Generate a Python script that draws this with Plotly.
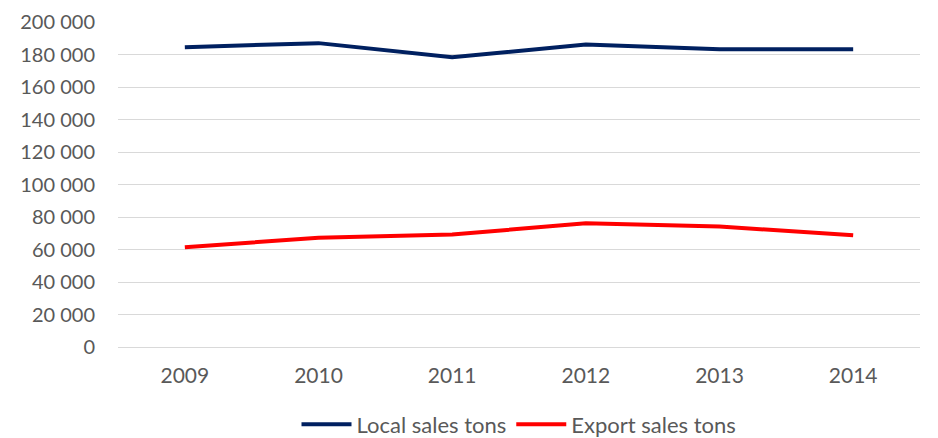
import plotly.graph_objs as go

years = ["2009", "2010", "2011", "2012", "2013", "2014"]
local_sales = [184500, 187000, 178300, 186100, 183300, 183300]
export_sales = [61400, 67200, 69200, 76100, 74100, 68800]
y_ticks = [0, 20000, 40000, 60000, 80000, 100000, 120000, 140000, 160000, 180000, 200000]

FONT = "Lato, 'Open Sans', sans-serif"
GREY = "#595959"

fig = go.Figure()
fig.add_trace(go.Scatter(x=years, y=local_sales, mode="lines", name="Local sales tons",
                         line=dict(color="#002060", width=4)))
fig.add_trace(go.Scatter(x=years, y=export_sales, mode="lines", name="Export sales tons",
                         line=dict(color="#FF0000", width=4)))

# page body adds an 8px margin, so the figure is 8px smaller than the window
fig.update_layout(
    width=930, height=430,
    margin=dict(l=110, r=18, t=14, b=91, autoexpand=False),
    paper_bgcolor="white", plot_bgcolor="white",
    separators=". ",
    font=dict(family=FONT, size=21, color=GREY),
    showlegend=True,
    legend=dict(orientation="h", x=0.5, xanchor="center", y=-0.238, yanchor="middle",
                font=dict(size=22, color=GREY), itemwidth=50),
)
fig.update_xaxes(type="category", range=[-0.5, 5.5], showgrid=False, zeroline=False,
                 showline=False, ticks="", tickfont=dict(size=21, color=GREY),
                 ticklabelstandoff=14)
fig.update_yaxes(range=[0, 200000], tickvals=y_ticks, tickformat=",d",
                 ticklabeloverflow="allow",
                 showgrid=True, gridcolor="#d9d9d9", gridwidth=1,
                 zeroline=True, zerolinecolor="#d9d9d9", zerolinewidth=1,
                 showline=False, ticks="", tickfont=dict(size=20, color=GREY),
                 ticklabelstandoff=22)

fig.write_html("out.html")
